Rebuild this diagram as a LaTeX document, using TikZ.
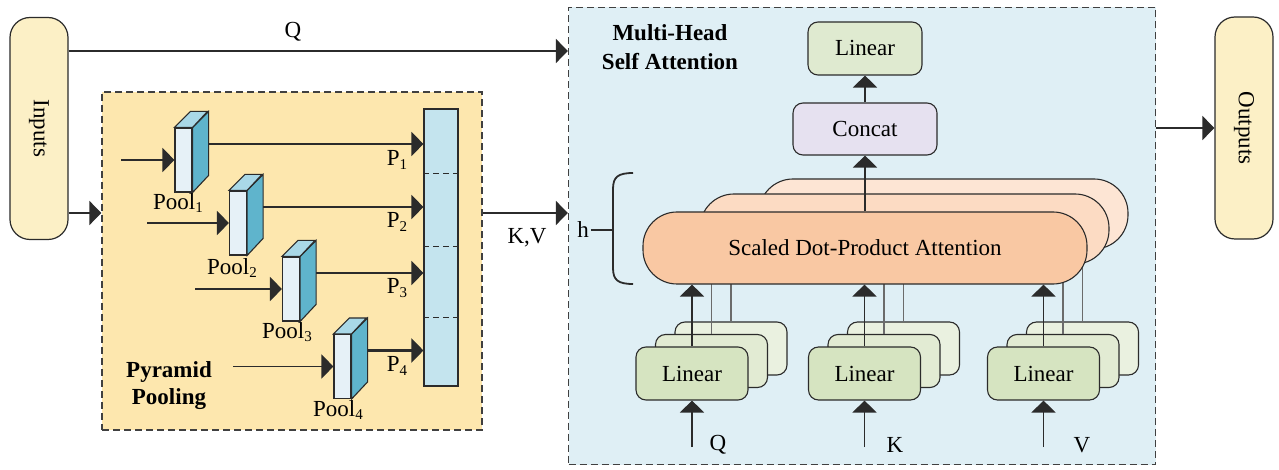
\documentclass[tikz,border=0pt]{standalone}
\usepackage{fontspec}
\setmainfont{Liberation Serif}
\usepackage{graphicx}
\usetikzlibrary{arrows.meta,calc}

\definecolor{iofill}{HTML}{FCF0C6}
\definecolor{ppfill}{HTML}{FDE7AE}
\definecolor{mhfill}{HTML}{DFEFF5}
\definecolor{cfront}{HTML}{E6F1F7}
\definecolor{cside}{HTML}{5FB4CC}
\definecolor{ctop}{HTML}{A9D8E7}
\definecolor{colfill}{HTML}{C4E4EE}
\definecolor{linfront}{HTML}{D6E4C1}
\definecolor{linmid}{HTML}{E2EBD3}
\definecolor{linback}{HTML}{EAF1E0}
\definecolor{toplin}{HTML}{DFEAD0}
\definecolor{catfill}{HTML}{E6E1F0}
\definecolor{sdfront}{HTML}{F9C8A3}
\definecolor{sdmid}{HTML}{FCDBC3}
\definecolor{sdback}{HTML}{FDE5D4}
\definecolor{edge}{HTML}{2B2B2B}

% subscript used in the pooling labels
\newcommand\ssub[1]{\raisebox{-0.35ex}{\fontsize{15}{15}\selectfont #1}}

\begin{document}
\begin{tikzpicture}[x=1pt,y=-1pt,
  font=\fontsize{23}{27}\selectfont,
  every node/.style={inner sep=0pt},
  line/.style={line width=1.3pt, draw=edge},
  arr/.style={line width=1.3pt, draw=edge, -{Triangle[length=12pt,width=24pt]}},
  gline/.style={line width=1.8pt, draw=black!58},
  iobox/.style={draw=edge, line width=1.2pt, fill=iofill, rounded corners=20pt,
    minimum width=58pt, minimum height=222pt},
  frame/.style={draw=black!75, line width=1.2pt, dash pattern=on 7pt off 4pt},
  cubeface/.style={draw=edge, line width=1.1pt},
  linbox/.style={draw=edge, line width=1.1pt, rounded corners=10pt,
    minimum width=112pt, minimum height=53pt},
  sdbox/.style={draw=edge, line width=1.1pt, rounded corners=34pt},
]
\useasboundingbox (0,0) rectangle (1279,470);
\fill[white] (0,0) rectangle (1279,470);

% ---------- inputs / outputs ----------
\node[iobox] (in) at (39,128.5) {\rotatebox{-90}{Inputs}};
\node[iobox] (out) at (1244,128) {\rotatebox{-90}{Outputs}};

% ---------- containers ----------
\node[frame, fill=ppfill, minimum width=380pt, minimum height=338pt] (pp) at (292,261) {};
\node[frame, fill=mhfill, minimum width=587pt, minimum height=457pt] (mh) at (862,236) {};

\coordinate (qy) at (0,51);
\coordinate (kvy) at (0,213);
\draw[arr] (in.east |- qy) -- (mh.west |- qy);
\node at (293,32) {Q};
\draw[arr] (in.east |- kvy) -- (pp.west |- kvy);
\draw[arr] (pp.east |- kvy) -- (mh.west |- kvy);
\node at (527,238) {K,V};
\draw[arr] (mh.east |- out.west) -- (out.west);

% ---------- pyramid pooling ----------
\node[draw=edge, line width=1.1pt, fill=colfill, minimum width=34pt, minimum height=277pt] (col) at (441,247.5) {};
\foreach \d in {65,138,209}
  \draw[line width=1.1pt, draw=edge, dash pattern=on 6pt off 4pt]
    ($(col.north west)+(0,\d)$) -- ($(col.north east)+(0,\d)$);

\foreach \i/\cx/\cy/\sx in {1/183.5/160/121, 2/238/223/147, 3/291/289/195, 4/342.5/366.5/233} {
  \node[cubeface, fill=cfront, minimum width=17pt, minimum height=64pt] (c\i) at (\cx,\cy) {};
  \draw[cubeface, fill=cside] (c\i.north east) -- ++(16,-16) -- ++(0,64) -- (c\i.south east) -- cycle;
  \draw[cubeface, fill=ctop] (c\i.north west) -- ++(16,-16) -- ++(17,0) -- (c\i.north east) -- cycle;
  \coordinate (pin\i) at (\sx,\cy);
  \draw[arr] (pin\i) -- (c\i.west);
  \coordinate (po\i) at ($(c\i.east)+(16,-16)$);
}
\draw[arr] (po1) -- (col.west |- po1);
\draw[arr] (po2) -- (col.west |- po2);
\draw[arr] (po3) -- (col.west |- po3);
\draw[arr, line width=2.4pt] (po4) -- (col.west |- po4);

\node at (397,160) {P\ssub{1}};
\node at (397,222) {P\ssub{2}};
\node at (397,288) {P\ssub{3}};
\node at (397,366) {P\ssub{4}};
\node at (178,203) {Pool\ssub{1}};
\node at (232,268) {Pool\ssub{2}};
\node at (287,332) {Pool\ssub{3}};
\node at (338,410) {Pool\ssub{4}};
\node[font=\fontsize{23}{27}\selectfont\bfseries, align=center] (pplabel) at (169,386) {Pyramid\\Pooling};

% ---------- multi-head self attention ----------
\node[font=\fontsize{23}{29}\selectfont\bfseries, align=center] (mhlabel) at (670,47.5) {Multi-Head\\Self Attention};

\node[linbox, fill=toplin, minimum width=114pt] (tlin) at (865,48.5) {Linear};
\node[linbox, fill=catfill, minimum width=144pt, minimum height=52pt] (cat) at (865,129) {Concat};
\draw[arr] (cat.north) -- (tlin.south);

\node[sdbox, fill=sdback, minimum width=369pt, minimum height=70pt] (sdb) at (943.5,214) {};
\node[sdbox, fill=sdmid, minimum width=409pt, minimum height=70pt] (sdm) at (904.5,229) {};

\foreach \n/\cx in {q/692, k/864.5, v/1043.5} {
  \node[linbox, fill=linback] (lb\n) at ({\cx+39},348.5) {};
  \node[linbox, fill=linmid] (lm\n) at ({\cx+19.5},361) {};
  \node[linbox, fill=linfront] (lf\n) at (\cx,373.5) {Linear};
  \draw[gline] (lm\n.north) -- (sdm.south -| lm\n.north);
  \draw[gline] (lb\n.north) -- (sdm.south -| lb\n.north);
  \coordinate (src\n) at (\cx,447);
  \draw[arr] (src\n) -- (lf\n.south);
}

\node[sdbox, fill=sdfront, minimum width=444pt, minimum height=72pt] (sdf) at (865,248) {Scaled Dot-Product Attention};
\draw[arr] (sdf.north) -- (cat.south);
\foreach \n in {q,k,v}
  \draw[arr] (lf\n.north) -- (sdf.south -| lf\n.north);

\node at (718,445) {Q};
\node at (895,445) {K};
\node at (1082,445) {V};

% head count bracket
\node[inner sep=2pt] (hlab) at (583,230) {h};
\coordinate (htip) at (613,230);
\draw[line] (hlab) -- (htip);
\draw[line, line width=1.8pt] (633,173) .. controls (618,173) and (613,177) .. (613,189)
  -- (613,268) .. controls (613,280) and (618,284) .. (633,284);
\end{tikzpicture}
\end{document}
